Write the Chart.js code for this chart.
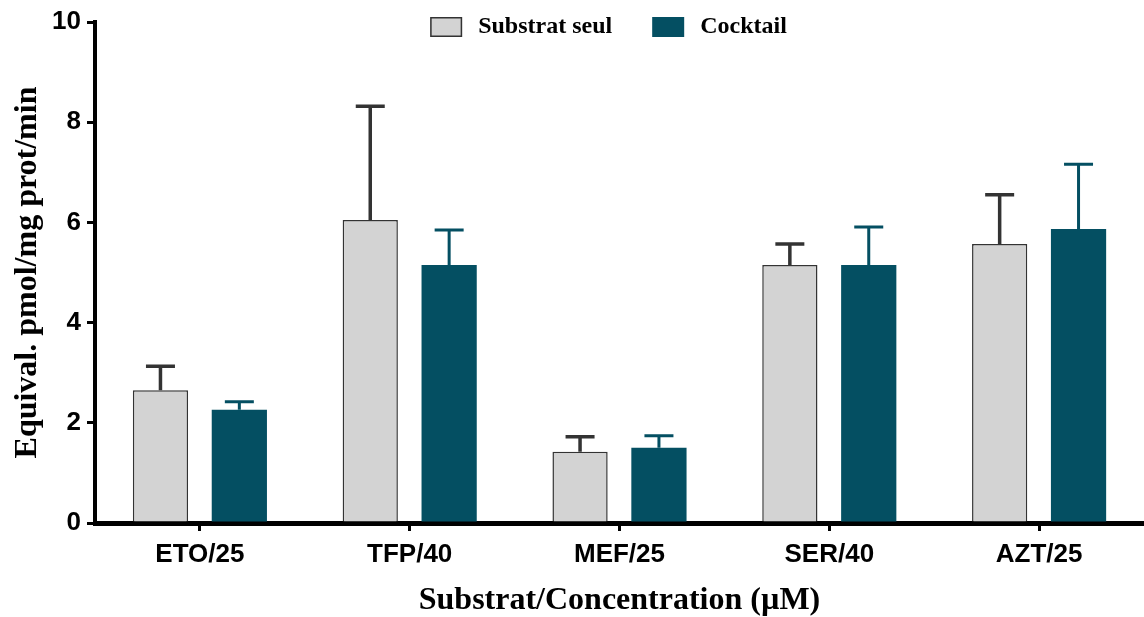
<!DOCTYPE html>
<html>
<head>
<meta charset="utf-8">
<script src="https://cdn.jsdelivr.net/npm/chart.js@4/dist/chart.umd.min.js"></script>
<style>
  html, body { margin: 0; padding: 0; background: #fff; }
  #wrap { width: 1144px; height: 617px; }
</style>
</head>
<body>
<div id="wrap"><canvas id="c" width="1144" height="617"></canvas></div>
<script>
// Substrates and concentrations (µM)
const categories = ['ETO/25', 'TFP/40', 'MEF/25', 'SER/40', 'AZT/25'];
// Mean activity, substrate alone
const substratSeul = [2.65, 6.05, 1.42, 5.15, 5.57];
const substratSeulSD = [0.48, 2.27, 0.30, 0.42, 0.98];
// Mean activity, cocktail
const cocktail = [2.26, 5.15, 1.50, 5.15, 5.87];
const cocktailSD = [0.16, 0.70, 0.24, 0.76, 1.29];
// Y axis ticks
const yTicks = [0, 2, 4, 6, 8, 10];

const GREY = '#d3d3d3';
const TEAL = '#044f62';
const DARK = '#333333';
const SERIF = '"Liberation Serif", "Times New Roman", serif';
const SANS = '"Liberation Sans", Arial, sans-serif';

// Upward error bars (mean + SD) drawn from the bar scale
const errorBars = {
  id: 'errorBars',
  afterDatasetsDraw(chart) {
    const { ctx } = chart;
    const yScale = chart.scales.y;
    chart.data.datasets.forEach((ds, i) => {
      const meta = chart.getDatasetMeta(i);
      ctx.save();
      ctx.strokeStyle = ds.errorColor;
      ctx.lineWidth = ds.errorWidth;
      meta.data.forEach((bar, j) => {
        const top = yScale.getPixelForValue(ds.data[j] + ds.sd[j]);
        const x = bar.x;
        ctx.beginPath();
        ctx.moveTo(x, bar.y);
        ctx.lineTo(x, top);
        ctx.moveTo(x - 14.5, top);
        ctx.lineTo(x + 14.5, top);
        ctx.stroke();
      });
      ctx.restore();
    });
  }
};

// Legend drawn inside the top of the plot
const topLegend = {
  id: 'topLegend',
  afterDraw(chart) {
    const { ctx, chartArea } = chart;
    ctx.save();
    ctx.font = 'bold 24px ' + SERIF;
    ctx.textBaseline = 'middle';
    const items = chart.data.datasets.map(ds => ({
      label: ds.label, fill: ds.backgroundColor, border: ds.borderWidth ? ds.borderColor : null,
      w: ctx.measureText(ds.label).width
    }));
    const boxW = 32, boxH = 20, gapBox = 16, gapItem = 40;
    let total = 0;
    items.forEach((it, k) => { total += boxW + gapBox + it.w + (k < items.length - 1 ? gapItem : 0); });
    let x = (chartArea.left + chartArea.right) / 2 - 11 - total / 2;
    const cy = 27;
    items.forEach(it => {
      ctx.fillStyle = it.fill;
      ctx.fillRect(x, cy - boxH / 2, boxW, boxH);
      if (it.border) {
        ctx.strokeStyle = it.border;
        ctx.lineWidth = 1.5;
        ctx.strokeRect(x + 0.75, cy - boxH / 2 + 0.75, boxW - 1.5, boxH - 1.5);
      }
      x += boxW + gapBox;
      ctx.fillStyle = '#000';
      ctx.fillText(it.label, x, cy);
      x += it.w + gapItem;
    });
    ctx.restore();
  }
};

new Chart(document.getElementById('c'), {
  type: 'bar',
  data: {
    labels: categories,
    datasets: [
      {
        label: 'Substrat seul',
        data: substratSeul,
        sd: substratSeulSD,
        backgroundColor: GREY,
        borderColor: DARK,
        borderWidth: 1.5,
        errorColor: DARK,
        errorWidth: 3.5
      },
      {
        label: 'Cocktail',
        data: cocktail,
        sd: cocktailSD,
        backgroundColor: TEAL,
        borderColor: TEAL,
        borderWidth: 0,
        errorColor: TEAL,
        errorWidth: 3
      }
    ]
  },
  options: {
    responsive: false,
    animation: false,
    devicePixelRatio: 1,
    categoryPercentage: 0.752,
    barPercentage: 0.7,
    layout: { padding: { top: 22, right: -3, left: 0, bottom: 0 } },
    plugins: { legend: { display: false }, tooltip: { enabled: false } },
    scales: {
      x: {
        afterFit(s) { s.height = 94; },
        grid: { drawOnChartArea: false, drawTicks: true, tickLength: 8, offset: false, color: '#000', lineWidth: 3 },
        border: { display: true, color: '#000', width: 5 },
        ticks: { color: '#000', padding: 8, font: { family: SANS, weight: 'bold', size: 26 } },
        title: {
          display: true, text: 'Substrat/Concentration (µM)', color: '#000',
          font: { family: SERIF, weight: 'bold', size: 32, lineHeight: 1.2 },
          padding: { top: 0, bottom: -3 }
        }
      },
      y: {
        min: 0, max: 10,
        afterFit(s) { s.width = 95; },
        afterBuildTicks(s) { s.ticks = yTicks.map(v => ({ value: v })); },
        grid: { drawOnChartArea: false, drawTicks: true, tickLength: 8, color: '#000', lineWidth: 3 },
        border: { display: true, color: '#000', width: 4 },
        ticks: { color: '#000', padding: 6, font: { family: SANS, weight: 'bold', size: 26 } },
        title: {
          display: true, text: 'Equival. pmol/mg prot/min', color: '#000',
          font: { family: SERIF, weight: 'bold', size: 32, lineHeight: 1.2 },
          padding: { top: 9, bottom: 0 }
        }
      }
    }
  },
  plugins: [errorBars, topLegend]
});
</script>
</body>
</html>
